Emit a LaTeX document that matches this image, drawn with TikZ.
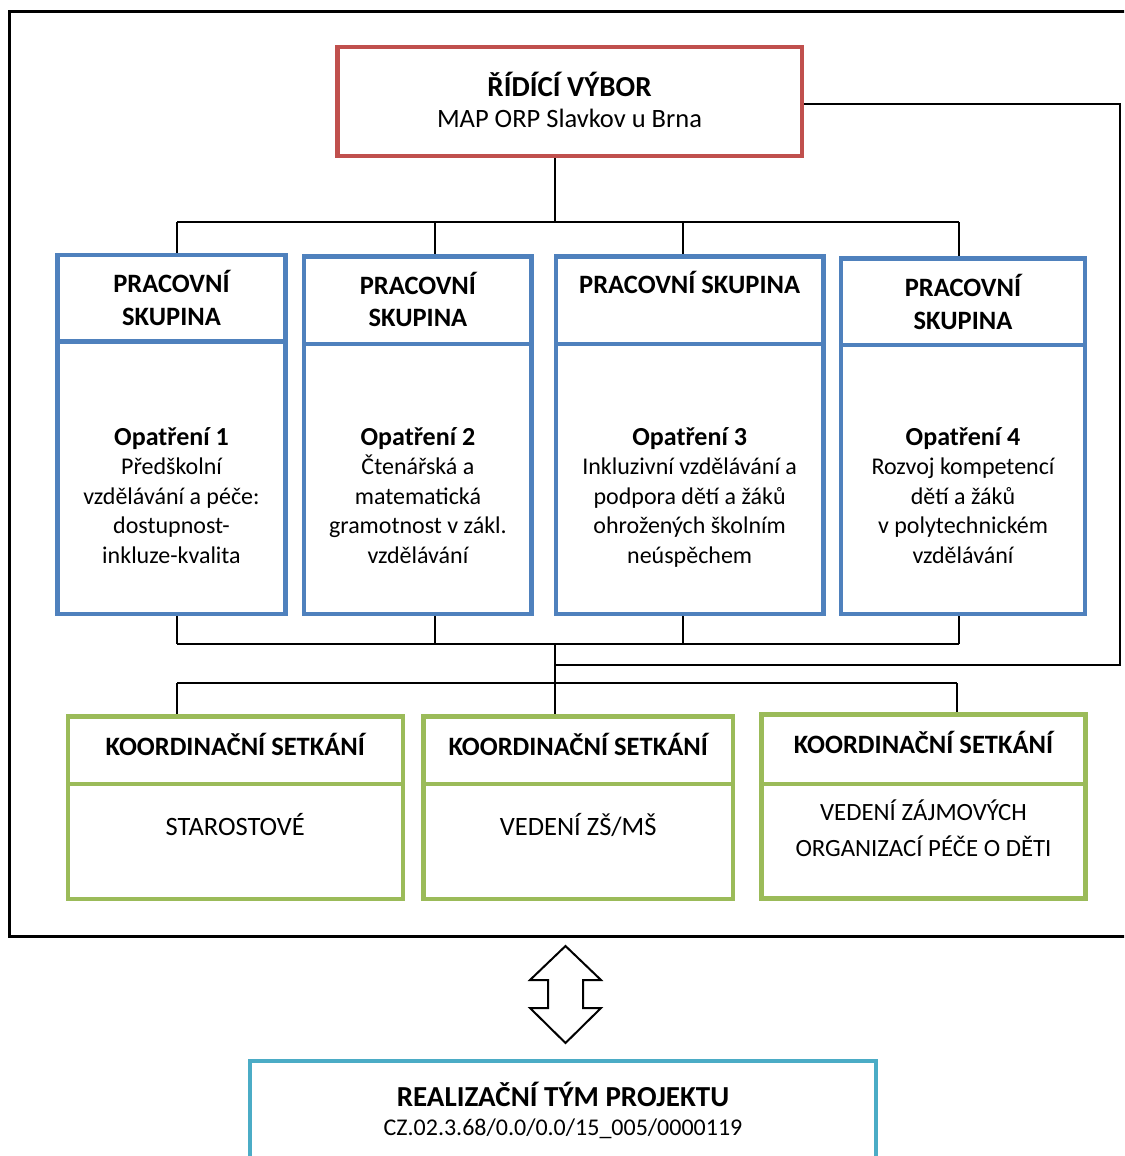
\documentclass[tikz,border=0pt]{standalone}
\usepackage{fontspec}
\setmainfont{Carlito}
\usetikzlibrary{backgrounds}
\definecolor{RidiciRed}{RGB}{192, 80, 77}
\definecolor{SkupinaBlue}{RGB}{79, 129, 189}
\definecolor{SetkaniGreen}{RGB}{155, 187, 89}
\definecolor{TymCyan}{RGB}{75, 172, 198}
\newcommand{\titulek}[1]{{\fontsize{29}{30}\selectfont\bfseries #1}}
\newcommand{\opatreni}[1]{{\fontsize{26}{29.5}\selectfont\bfseries #1}}

\begin{document}
\begin{tikzpicture}[x=1pt, y=-1pt, font=\fontsize{24}{29.5}\selectfont,
	ramecek/.style={draw, line width=4.5pt, inner xsep=0pt, inner ysep=0pt, outer sep=0pt, align=center, anchor=north},
	hlava/.style={ramecek, font=\fontsize{26.5}{32.5}\selectfont\bfseries},
	setkani/.style={ramecek, draw=SetkaniGreen, font=\fontsize{26.5}{36}\selectfont},
	spoj/.style={line width=2pt}]
	\useasboundingbox (0,0) rectangle (1124,1156);
	\clip (0,0) rectangle (1124,1156);

	% vnejsi ramecek
	\draw[line width=3pt] (1130,12) -- (9,12) -- (9,936.5) -- (1130,936.5);

	% ridici vybor
	\node[ramecek, draw=RidiciRed, minimum width=464.5pt, text height=80pt, text depth=29pt,
		font=\fontsize{26.5}{30.5}\selectfont] (ridici) at (569.5,47)
		{\titulek{ŘÍDÍCÍ VÝBOR}\\MAP ORP Slavkov u Brna};

	% pracovni skupiny
	\node[hlava, draw=SkupinaBlue, minimum width=227.7pt, text height=70.2pt, text depth=16.3pt] (ps1h) at (171.5,255) {PRACOVNÍ\\SKUPINA};
	\node[ramecek, draw=SkupinaBlue, minimum width=227.7pt, text height=221.5pt, text depth=51pt] (ps1b) at (ps1h.south)
		{\opatreni{Opatření 1}\\Předškolní\\vzdělávání a péče:\\dostupnost-\\inkluze-kvalita};
	\node[hlava, draw=SkupinaBlue, minimum width=227.4pt, text height=70.2pt, text depth=17.5pt] (ps2h) at (417.9,256.3) {PRACOVNÍ\\SKUPINA};
	\node[ramecek, draw=SkupinaBlue, minimum width=227.4pt, text height=219pt, text depth=51pt] (ps2b) at (ps2h.south)
		{\opatreni{Opatření 2}\\Čtenářská a\\matematická\\gramotnost v zákl.\\vzdělávání};
	\node[hlava, draw=SkupinaBlue, minimum width=267.7pt, text height=37pt, text depth=50.7pt] (ps3h) at (689.65,256.3) {PRACOVNÍ SKUPINA};
	\node[ramecek, draw=SkupinaBlue, minimum width=267.7pt, text height=219pt, text depth=51pt] (ps3b) at (ps3h.south)
		{\opatreni{Opatření 3}\\Inkluzivní vzdělávání a\\podpora dětí a žáků\\ohrožených školním\\neúspěchem};
	\node[hlava, draw=SkupinaBlue, minimum width=243.6pt, text height=70.9pt, text depth=15.8pt] (ps4h) at (963,258.3) {PRACOVNÍ\\SKUPINA};
	\node[ramecek, draw=SkupinaBlue, minimum width=243.6pt, text height=218pt, text depth=51pt] (ps4b) at (ps4h.south)
		{\opatreni{Opatření 4}\\Rozvoj kompetencí\\dětí a žáků\\v polytechnickém\\vzdělávání};

	% koordinacni setkani
	\node[hlava, draw=SetkaniGreen, minimum width=335pt, text height=38.7pt, text depth=29pt] (ks1h) at (235.3,716.3) {KOORDINAČNÍ SETKÁNÍ};
	\node[setkani, minimum width=335pt, text height=51pt, text depth=64pt] (ks1b) at (ks1h.south) {STAROSTOVÉ};
	\node[hlava, draw=SetkaniGreen, minimum width=309.2pt, text height=38.7pt, text depth=29pt] (ks2h) at (578.2,716.3) {KOORDINAČNÍ SETKÁNÍ};
	\node[setkani, minimum width=309.2pt, text height=51pt, text depth=64pt] (ks2b) at (ks2h.south) {VEDENÍ ZŠ/MŠ};
	\node[hlava, draw=SetkaniGreen, minimum width=324pt, text height=38.6pt, text depth=30.7pt] (ks3h) at (923.5,714.7) {KOORDINAČNÍ SETKÁNÍ};
	\node[setkani, minimum width=324pt, text height=72pt, text depth=42.3pt,
		font=\fontsize{24.8}{36}\selectfont] (ks3b) at (ks3h.south) {VEDENÍ ZÁJMOVÝCH\\ORGANIZACÍ PÉČE O DĚTI};

	% realizacni tym
	\node[ramecek, draw=TymCyan, minimum width=625.6pt, text height=74pt, text depth=65pt,
		font=\fontsize{24}{29}\selectfont] (realizacni) at (563,1061)
		{\titulek{REALIZAČNÍ TÝM PROJEKTU}\\CZ.02.3.68/0.0/0.0/15\_005/0000119};

	% obousmerna sipka
	\draw[line width=2pt, fill=white] (565.5,946) -- (601,980) -- (583,980) -- (583,1008) -- (601,1008)
		-- (565.5,1043) -- (530,1008) -- (548,1008) -- (548,980) -- (530,980) -- cycle;

	% spojnice
	\coordinate (horni) at (555,222);
	\coordinate (h1) at (177,222);
	\coordinate (h2) at (435,222);
	\coordinate (h3) at (683,222);
	\coordinate (h4) at (959,222);
	\coordinate (dolni) at (555,644);
	\coordinate (d1) at (177,644);
	\coordinate (d2) at (435,644);
	\coordinate (d3) at (683,644);
	\coordinate (d4) at (959,644);
	\coordinate (k1) at (177,683);
	\coordinate (k3) at (957,683);
	\coordinate (zpet) at (1120,665);
	\coordinate (zpetosa) at (555,665);
	\begin{scope}[on background layer]
		\draw[spoj] (ridici.south -| horni) -- (horni);
		\draw[spoj] (h1) -- (h4);
		\foreach \i in {1,...,4} {
			\draw[spoj] (h\i) -- (h\i |- ps\i h.north);
			\draw[spoj] (ps\i b.south -| d\i) -- (d\i);
		}
		\draw[spoj] (d1) -- (d4);
		\draw[spoj] (dolni) -- (dolni |- ks2h.north);
		\draw[spoj] (k1) -- (k3);
		\draw[spoj] (k1) -- (k1 |- ks1h.north);
		\draw[spoj] (k3) -- (k3 |- ks3h.north);
		\draw[spoj] ([yshift=-2.5pt]ridici.east) -| (zpet) -- (zpetosa);
	\end{scope}
\end{tikzpicture}
\end{document}
